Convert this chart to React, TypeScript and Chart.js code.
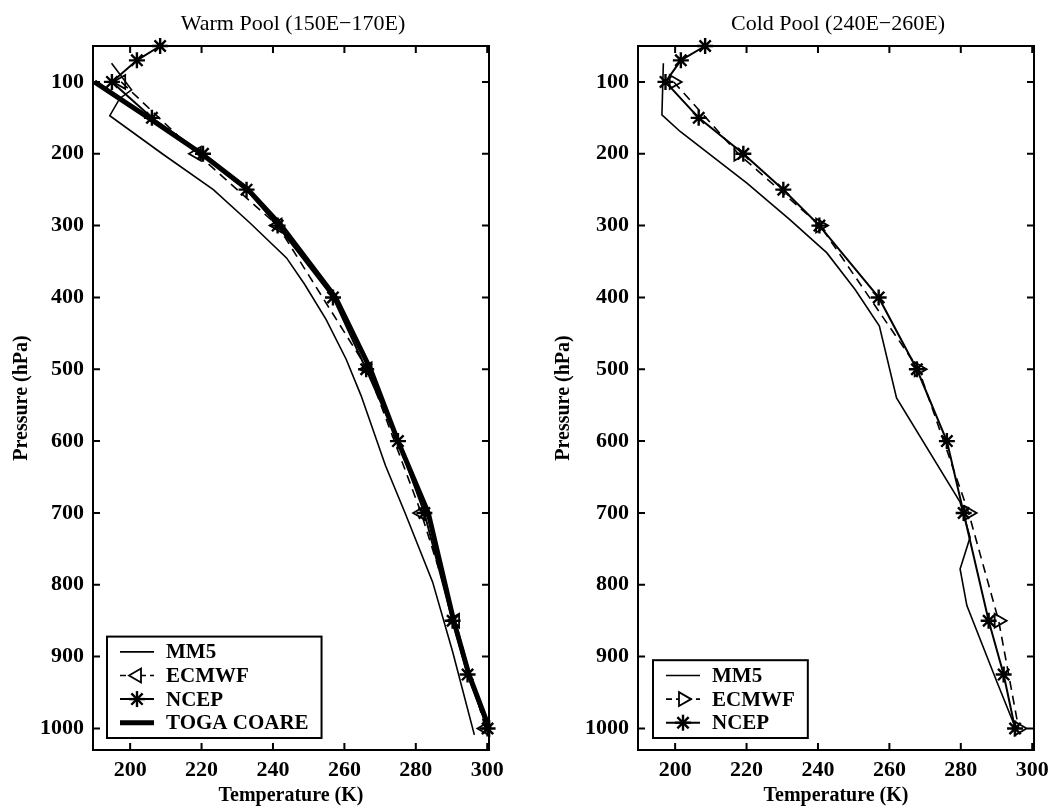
import React, { useEffect, useRef } from "react";
import { Chart, registerables } from "chart.js";

Chart.register(...registerables);

const FONT = "'Liberation Serif', 'Times New Roman', serif";

// Axis ticks
const tempTicks = [200, 220, 240, 260, 280, 300];
const pressTicks = [100, 200, 300, 400, 500, 600, 700, 800, 900, 1000];

// ---------- Warm Pool (150E-170E) ----------
const warmMM5P = [74, 111, 123, 147, 200, 250, 296, 345, 382, 431, 486, 537, 634, 700, 796, 893, 1009];
const warmMM5T = [194.8, 200.4, 197.1, 194.3, 209, 223.3, 233.5, 243.8, 248.9, 254.9, 260.5, 264.7, 271.5, 277, 284.7, 290.3, 296.4];

const warmECMWFP = [100, 200, 300, 500, 700, 850, 1000];
const warmECMWFT = [197.5, 218.7, 241.3, 266.5, 281.5, 291, 299.5];

const warmNCEPP = [50, 70, 100, 150, 200, 250, 300, 400, 500, 600, 700, 850, 925, 1000];
const warmNCEPT = [208.4, 201.9, 194.9, 206.1, 220.4, 232.6, 241.3, 256.8, 266.1, 275.0, 282.4, 290.3, 294.5, 300.1];

const warmTOGAP = [100, 150, 200, 250, 300, 400, 500, 600, 700, 850, 925, 1000];
const warmTOGAT = [190.0, 205.2, 220.0, 233.0, 242.3, 257.5, 267.3, 275.0, 283.5, 290.6, 294.9, 300.6];

// ---------- Cold Pool (240E-260E) ----------
const coldMM5P = [74, 146, 169, 241, 292, 338, 389, 440, 540, 685, 734, 778, 829, 935, 998];
const coldMM5T = [196.7, 196.3, 201.4, 220.1, 232.2, 242.5, 250.4, 257.2, 262.0, 279.8, 282.6, 279.8, 281.7, 290.1, 295.2];

const coldECMWFP = [100, 200, 300, 500, 700, 850, 1000];
const coldECMWFT = [199.6, 217.7, 240.6, 268.2, 282.2, 290.6, 296.2];

const coldNCEPP = [50, 70, 100, 150, 200, 250, 300, 400, 500, 600, 700, 850, 925, 1000];
const coldNCEPT = [208.4, 201.6, 197.3, 206.6, 219.1, 230.3, 240.4, 257.0, 267.7, 276.1, 280.8, 287.8, 292.0, 295.2];

type Kind = "mm5" | "ecmwf" | "ncep" | "toga";
type Series = { label: string; kind: Kind; t: number[]; p: number[] };

type PanelCfg = {
  title: string;
  width: number;
  yWidth: number;
  yTitlePad: number;
  padRight: number;
  triRot: number;
  legendDx: number;
  series: Series[];
};

const warmSeries: Series[] = [
  { label: "MM5", kind: "mm5", t: warmMM5T, p: warmMM5P },
  { label: "ECMWF", kind: "ecmwf", t: warmECMWFT, p: warmECMWFP },
  { label: "NCEP", kind: "ncep", t: warmNCEPT, p: warmNCEPP },
  { label: "TOGA COARE", kind: "toga", t: warmTOGAT, p: warmTOGAP },
];

const coldSeries: Series[] = [
  { label: "MM5", kind: "mm5", t: coldMM5T, p: coldMM5P },
  { label: "ECMWF", kind: "ecmwf", t: coldECMWFT, p: coldECMWFP },
  { label: "NCEP", kind: "ncep", t: coldNCEPT, p: coldNCEPP },
];

const LINE_W: Record<Kind, number> = { mm5: 1.6, ecmwf: 1.6, ncep: 2, toga: 5 };
const DASH: Record<Kind, number[]> = { mm5: [], ecmwf: [9, 6], ncep: [], toga: [] };

function drawMarker(ctx: CanvasRenderingContext2D, kind: Kind, rot: number, x: number, y: number, r: number) {
  ctx.save();
  ctx.setLineDash([]);
  ctx.strokeStyle = "#000";
  if (kind === "ecmwf") {
    ctx.lineWidth = 1.8;
    let rad = (rot * Math.PI) / 180;
    ctx.beginPath();
    for (let k = 0; k < 3; k++) {
      const px = x + Math.sin(rad) * r;
      const py = y - Math.cos(rad) * r;
      if (k === 0) ctx.moveTo(px, py);
      else ctx.lineTo(px, py);
      rad += (2 * Math.PI) / 3;
    }
    ctx.closePath();
    ctx.fillStyle = "#fff";
    ctx.fill();
    ctx.stroke();
  } else if (kind === "ncep") {
    ctx.lineWidth = 2.4;
    for (let k = 0; k < 4; k++) {
      const a = (k * Math.PI) / 4;
      ctx.beginPath();
      ctx.moveTo(x - Math.cos(a) * r, y - Math.sin(a) * r);
      ctx.lineTo(x + Math.cos(a) * r, y + Math.sin(a) * r);
      ctx.stroke();
    }
  }
  ctx.restore();
}

function makePlugin(cfg: PanelCfg) {
  return {
    id: "matlabFrame",
    afterDatasetsDraw(chart: any) {
      const ctx: CanvasRenderingContext2D = chart.ctx;
      const ca = chart.chartArea;
      const xs = chart.scales.x;
      const ys = chart.scales.y;
      ctx.save();
      // frame
      ctx.strokeStyle = "#000";
      ctx.lineWidth = 2;
      ctx.setLineDash([]);
      ctx.strokeRect(ca.left, ca.top, ca.right - ca.left, ca.bottom - ca.top);
      // inward ticks
      const tl = 7;
      ctx.beginPath();
      tempTicks.forEach((v) => {
        const px = xs.getPixelForValue(v);
        ctx.moveTo(px, ca.bottom);
        ctx.lineTo(px, ca.bottom - tl);
        ctx.moveTo(px, ca.top);
        ctx.lineTo(px, ca.top + tl);
      });
      pressTicks.forEach((v) => {
        const py = ys.getPixelForValue(v);
        ctx.moveTo(ca.left, py);
        ctx.lineTo(ca.left + tl, py);
        ctx.moveTo(ca.right, py);
        ctx.lineTo(ca.right - tl, py);
      });
      ctx.stroke();

      // title
      ctx.fillStyle = "#000";
      ctx.font = `22px ${FONT}`;
      ctx.textAlign = "center";
      ctx.textBaseline = "middle";
      ctx.fillText(cfg.title, (ca.left + ca.right) / 2 + 2, 24);

      // legend
      ctx.font = `bold 21px ${FONT}`;
      const rowH = 23.6;
      const padV = 3.5;
      const padL = 13;
      const seg = 34;
      const gap = 12;
      const padR = 13;
      const textW = Math.max(...cfg.series.map((s) => ctx.measureText(s.label).width));
      const boxW = padL + seg + gap + textW + padR;
      const boxH = cfg.series.length * rowH + 2 * padV;
      const bx = ca.left + cfg.legendDx;
      const by = ca.bottom - 12 - boxH;
      ctx.fillStyle = "#fff";
      ctx.fillRect(bx, by, boxW, boxH);
      ctx.lineWidth = 2;
      ctx.strokeRect(bx, by, boxW, boxH);
      cfg.series.forEach((s, i) => {
        const cy = by + padV + rowH * (i + 0.5);
        const x0 = bx + padL;
        const x1 = x0 + seg;
        ctx.save();
        ctx.strokeStyle = "#000";
        ctx.lineWidth = LINE_W[s.kind];
        ctx.setLineDash(DASH[s.kind].length ? [6, 4] : []);
        ctx.beginPath();
        ctx.moveTo(x0, cy);
        ctx.lineTo(x1, cy);
        ctx.stroke();
        ctx.restore();
        drawMarker(ctx, s.kind, cfg.triRot, (x0 + x1) / 2, cy, 8);
        ctx.fillStyle = "#000";
        ctx.textAlign = "left";
        ctx.textBaseline = "middle";
        ctx.fillText(s.label, x1 + gap, cy + 1);
      });
      ctx.restore();
    },
  };
}

function Panel({ cfg }: { cfg: PanelCfg }) {
  const ref = useRef<HTMLCanvasElement | null>(null);
  useEffect(() => {
    if (!ref.current) return;
    const datasets = cfg.series.map((s) => {
      const base: any = {
        label: s.label,
        data: s.t.map((x, i) => ({ x, y: s.p[i] })),
        showLine: true,
        borderColor: "#000",
        backgroundColor: "rgba(0,0,0,0)",
        borderWidth: LINE_W[s.kind],
        borderDash: DASH[s.kind],
        tension: 0,
        clip: false,
        pointRadius: 0,
        pointHoverRadius: 0,
      };
      if (s.kind === "ecmwf") {
        base.pointStyle = "triangle";
        base.pointRotation = cfg.triRot;
        base.pointRadius = 8;
        base.pointBorderWidth = 1.8;
        base.pointBorderColor = "#000";
        base.pointBackgroundColor = "rgba(0,0,0,0)";
      }
      if (s.kind === "ncep") {
        base.pointStyle = "star";
        base.pointRadius = 8;
        base.pointBorderWidth = 2.4;
        base.pointBorderColor = "#000";
        base.pointBackgroundColor = "#000";
      }
      return base;
    });
    const tickFont = { family: FONT, size: 22, weight: "bold" as const };
    const titleFont = { family: FONT, size: 20, weight: "bold" as const };
    const chart = new Chart(ref.current, {
      type: "scatter",
      data: { datasets },
      options: {
        animation: false,
        responsive: false,
        devicePixelRatio: 1,
        events: [],
        layout: { padding: { left: 0, right: cfg.padRight, top: 46, bottom: 0 } },
        plugins: {
          legend: { display: false },
          title: { display: false },
          tooltip: { enabled: false },
        },
        scales: {
          x: {
            type: "linear",
            min: 189.6,
            max: 300.5,
            afterBuildTicks: (s: any) => {
              s.ticks = tempTicks.map((v) => ({ value: v }));
            },
            afterFit: (s: any) => {
              s.height = 58;
            },
            grid: { display: false, drawTicks: false },
            border: { display: false },
            ticks: {
              padding: 7,
              color: "#000",
              font: tickFont,
              autoSkip: false,
              maxRotation: 0,
              callback: (v: any) => String(v),
            },
            title: {
              display: true,
              text: "Temperature (K)",
              color: "#000",
              font: titleFont,
              padding: { top: 0, bottom: 0 },
            },
          },
          y: {
            type: "linear",
            reverse: true,
            min: 50,
            max: 1030,
            afterBuildTicks: (s: any) => {
              s.ticks = pressTicks.map((v) => ({ value: v }));
            },
            afterFit: (s: any) => {
              s.width = cfg.yWidth;
            },
            grid: { display: false, drawTicks: false },
            border: { display: false },
            ticks: {
              padding: 9,
              color: "#000",
              font: tickFont,
              autoSkip: false,
              callback: (v: any) => String(v),
            },
            title: {
              display: true,
              text: "Pressure (hPa)",
              color: "#000",
              font: titleFont,
              padding: { top: cfg.yTitlePad, bottom: 0 },
            },
          },
        },
      } as any,
      plugins: [makePlugin(cfg)],
    });
    return () => chart.destroy();
  }, [cfg]);
  return <canvas ref={ref} width={cfg.width} height={808} style={{ display: "block", width: cfg.width, height: 808 }} />;
}

const warmCfg: PanelCfg = {
  title: "Warm Pool (150E\u2212170E)",
  width: 530,
  yWidth: 93,
  yTitlePad: 10,
  padRight: 41,
  triRot: -90,
  legendDx: 14,
  series: warmSeries,
};

const coldCfg: PanelCfg = {
  title: "Cold Pool (240E\u2212260E)",
  width: 540,
  yWidth: 108,
  yTitlePad: 22,
  padRight: 36,
  triRot: 90,
  legendDx: 15,
  series: coldSeries,
};

export default function App() {
  return (
    <div
      style={{
        position: "fixed",
        left: 0,
        top: 0,
        width: 1051,
        height: 808,
        background: "#fff",
        overflow: "hidden",
      }}
    >
      <div style={{ position: "absolute", left: 0, top: 0 }}>
        <Panel cfg={warmCfg} />
      </div>
      <div style={{ position: "absolute", left: 530, top: 0 }}>
        <Panel cfg={coldCfg} />
      </div>
    </div>
  );
}
